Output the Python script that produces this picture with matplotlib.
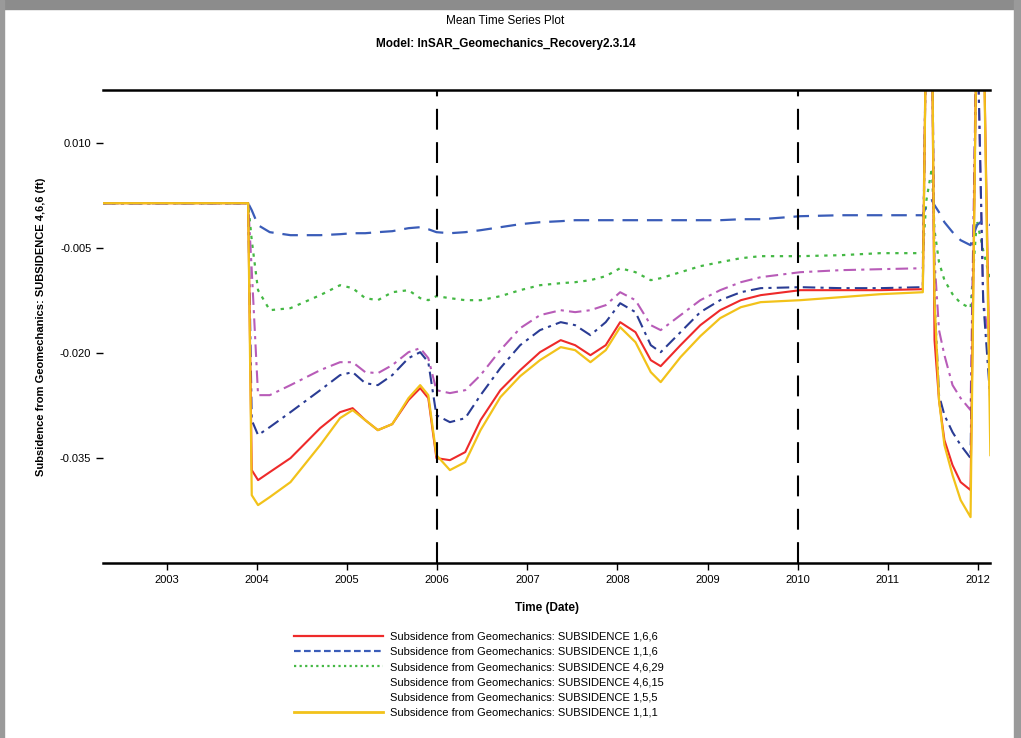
import matplotlib
matplotlib.use("Agg")
import matplotlib.pyplot as plt
from matplotlib.lines import Line2D
from matplotlib.patches import Rectangle

plt.rcParams["font.family"] = ["Liberation Sans", "DejaVu Sans"]

# time axis (decimal years), shared by all series
years = [2002.29, 2003.90, 2003.94, 2004.01, 2004.14, 2004.37, 2004.70, 2004.92, 2005.06, 2005.20,
         2005.34, 2005.50, 2005.68, 2005.81, 2005.90, 2005.99, 2006.14, 2006.31, 2006.48, 2006.70,
         2006.92, 2007.14, 2007.37, 2007.53, 2007.70, 2007.87, 2008.03, 2008.20, 2008.37, 2008.48,
         2008.70, 2008.92, 2009.14, 2009.37, 2009.59, 2010.03, 2010.48, 2010.92, 2011.39, 2011.43,
         2011.49, 2011.52, 2011.57, 2011.63, 2011.72, 2011.81, 2011.92, 2011.99, 2012.06, 2012.14]

s_166 = [0.00143, 0.00143, -0.03671, -0.03814, -0.03700, -0.03500, -0.03071, -0.02843, -0.02786, -0.02957,
         -0.03100, -0.03014, -0.02671, -0.02500, -0.02643, -0.03500, -0.03529, -0.03414, -0.02957, -0.02529,
         -0.02243, -0.01986, -0.01814, -0.01886, -0.02029, -0.01886, -0.01557, -0.01700, -0.02100, -0.02186,
         -0.01886, -0.01600, -0.01386, -0.01243, -0.01171, -0.01100, -0.01100, -0.01100, -0.01086, 0.03000,
         0.03000, -0.01814, -0.02671, -0.03243, -0.03600, -0.03843, -0.03957, 0.03000, 0.03000, -0.02957]

s_116 = [0.00143, 0.00143, 0.00043, -0.00171, -0.00271, -0.00314, -0.00314, -0.00300, -0.00286, -0.00286,
         -0.00271, -0.00257, -0.00214, -0.00200, -0.00229, -0.00271, -0.00286, -0.00271, -0.00243, -0.00200,
         -0.00157, -0.00129, -0.00114, -0.00100, -0.00100, -0.00100, -0.00100, -0.00100, -0.00100, -0.00100,
         -0.00100, -0.00100, -0.00100, -0.00086, -0.00086, -0.00043, -0.00029, -0.00029, -0.00029, 0.00114,
         0.00186, 0.00114, 0.00014, -0.00129, -0.00271, -0.00386, -0.00457, -0.00171, -0.00100, -0.00171]

s_4629 = [0.00143, 0.00143, -0.00386, -0.01100, -0.01386, -0.01357, -0.01171, -0.01029, -0.01071, -0.01214,
          -0.01243, -0.01129, -0.01100, -0.01214, -0.01243, -0.01186, -0.01214, -0.01243, -0.01243, -0.01186,
          -0.01100, -0.01029, -0.01000, -0.00986, -0.00957, -0.00900, -0.00786, -0.00843, -0.00957, -0.00929,
          -0.00843, -0.00757, -0.00700, -0.00643, -0.00614, -0.00614, -0.00600, -0.00571, -0.00571, 0.00186,
          0.00643, -0.00243, -0.00700, -0.00957, -0.01157, -0.01286, -0.01357, -0.00100, -0.00529, -0.00957]

s_4615 = [0.00143, 0.00143, -0.00814, -0.02600, -0.02600, -0.02457, -0.02243, -0.02129, -0.02129, -0.02271,
          -0.02286, -0.02171, -0.01986, -0.01929, -0.02071, -0.02529, -0.02571, -0.02529, -0.02314, -0.01957,
          -0.01643, -0.01457, -0.01386, -0.01414, -0.01386, -0.01314, -0.01129, -0.01243, -0.01600, -0.01671,
          -0.01457, -0.01243, -0.01100, -0.00986, -0.00914, -0.00843, -0.00814, -0.00800, -0.00786, 0.03000,
          0.03000, -0.00671, -0.01671, -0.02029, -0.02457, -0.02643, -0.02814, 0.03000, -0.01243, -0.01957]

s_155 = [0.00143, 0.00143, -0.02957, -0.03171, -0.03057, -0.02843, -0.02529, -0.02314, -0.02271, -0.02429,
         -0.02457, -0.02314, -0.02071, -0.01986, -0.02129, -0.02886, -0.02986, -0.02929, -0.02600, -0.02214,
         -0.01886, -0.01671, -0.01557, -0.01600, -0.01743, -0.01557, -0.01286, -0.01414, -0.01886, -0.01986,
         -0.01700, -0.01414, -0.01243, -0.01129, -0.01071, -0.01057, -0.01071, -0.01071, -0.01057, 0.03000,
         0.03000, -0.01243, -0.02600, -0.02886, -0.03129, -0.03314, -0.03500, 0.03000, -0.01243, -0.02671]

s_111 = [0.00143, 0.00143, -0.04029, -0.04171, -0.04057, -0.03843, -0.03314, -0.02929, -0.02814, -0.02957,
         -0.03100, -0.03014, -0.02643, -0.02457, -0.02600, -0.03457, -0.03671, -0.03557, -0.03100, -0.02629,
         -0.02329, -0.02100, -0.01914, -0.01957, -0.02129, -0.01957, -0.01629, -0.01843, -0.02271, -0.02414,
         -0.02057, -0.01757, -0.01500, -0.01343, -0.01271, -0.01243, -0.01200, -0.01157, -0.01129, 0.03000,
         0.03000, -0.01243, -0.02671, -0.03314, -0.03743, -0.04100, -0.04343, 0.03000, 0.03000, -0.03457]

labels = ["Subsidence from Geomechanics: SUBSIDENCE 1,6,6",
          "Subsidence from Geomechanics: SUBSIDENCE 1,1,6",
          "Subsidence from Geomechanics: SUBSIDENCE 4,6,29",
          "Subsidence from Geomechanics: SUBSIDENCE 4,6,15",
          "Subsidence from Geomechanics: SUBSIDENCE 1,5,5",
          "Subsidence from Geomechanics: SUBSIDENCE 1,1,1"]

yticks = [0.010, -0.005, -0.020, -0.035]
xticks = list(range(2003, 2013))
markers = [2006, 2010]

fig = plt.figure(figsize=(10.21, 7.38), dpi=100)
ax = fig.add_axes([0.101, 0.237, 0.869, 0.641])

ax.plot(years, s_4629, color="#44b844", ls=(0, (1.5, 2.5)), lw=1.6)
ax.plot(years, s_4615, color="#b85cb8", ls=(0, (6, 2.5, 1.5, 2.5)), lw=1.5)
ax.plot(years, s_155, color="#2a3c94", ls=(0, (6, 2.5, 1.5, 2.5)), lw=1.5)
ax.plot(years, s_116, color="#3a5cb8", ls=(0, (7, 4)), lw=1.6)
ax.plot(years, s_166, color="#ee2a2a", lw=1.5)
ax.plot(years, s_111, color="#f2c21a", lw=1.6)

for m in markers:
    ax.axvline(m, color="black", ls=(0, (10, 6)), lw=1.5)

ax.set_xlim(2002.29, 2012.14)
ax.set_ylim(-0.050, 0.0176)
ax.set_yticks(yticks)
ax.set_yticklabels(["0.010", "-0.005", "-0.020", "-0.035"])
ax.set_xticks(xticks)
ax.tick_params(labelsize=8, length=5, width=1)

for side in ["left", "right"]:
    ax.spines[side].set_visible(False)
for side in ["top", "bottom"]:
    ax.spines[side].set_linewidth(1.8)

ax.set_xlabel("Time (Date)", fontsize=8.5, fontweight="bold", labelpad=12)
ax.set_ylabel("Subsidence from Geomechanics: SUBSIDENCE 4,6,6 (ft)", fontsize=8,
              fontweight="bold", labelpad=10)

fig.text(0.495, 0.972, "Mean Time Series Plot", ha="center", va="center", fontsize=8.5)
fig.text(0.495, 0.941, "Model: InSAR_Geomechanics_Recovery2.3.14", ha="center", va="center",
         fontsize=8.5, fontweight="bold")

handles = [Line2D([], [], color="#ee2a2a", lw=1.6),
           Line2D([], [], color="#3a5cb8", lw=1.6, ls=(0, (3, 1.5))),
           Line2D([], [], color="#44b844", lw=1.6, ls=(0, (1, 1.5))),
           Line2D([], [], color="none"),
           Line2D([], [], color="none"),
           Line2D([], [], color="#f2c21a", lw=2)]
fig.legend(handles, labels, loc="upper left", bbox_to_anchor=(0.284, 0.150),
           frameon=False, fontsize=8, handlelength=8.0, handletextpad=0.6,
           labelspacing=0.47, borderaxespad=0)

# window-like frame around the picture
fig.patches.append(Rectangle((0, 0.988), 1, 0.012, transform=fig.transFigure,
                             color="#8c8c8c", zorder=0))
fig.patches.append(Rectangle((0, 0), 0.004, 1, transform=fig.transFigure,
                             color="#9a9a9a", zorder=0))
fig.patches.append(Rectangle((0.993, 0), 0.007, 1, transform=fig.transFigure,
                             color="#9a9a9a", zorder=0))

fig.savefig("out.png", dpi=100)
